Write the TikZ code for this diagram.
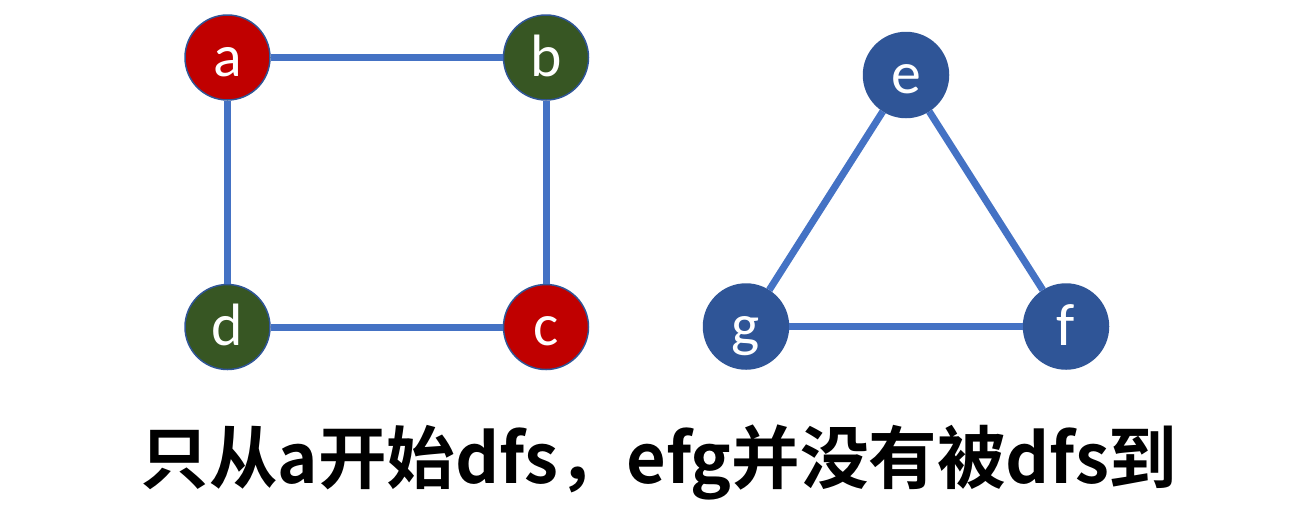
\documentclass[tikz,border=0pt]{standalone}
\usepackage{fontspec}
\setmainfont{Carlito}
\newfontfamily\cjkbold{Noto Sans CJK SC Bold}
\usepackage{tikz}
\usetikzlibrary{positioning}
\definecolor{edgeblue}{HTML}{4472C4}
\definecolor{nodeblue}{HTML}{2F5597}
\definecolor{nodered}{HTML}{C00000}
\definecolor{nodegreen}{HTML}{375623}

\tikzset{
vert/.style={circle, draw=nodeblue, line width=0.85pt, minimum size=1.7cm, inner sep=0pt, text=white, text height=0.74cm, text depth=0cm, font=\fontsize{34}{34}\selectfont},
edge/.style={edgeblue, line width=0.14cm}
}

\begin{document}
\begin{tikzpicture}
\useasboundingbox (0,0) rectangle (25.9,-10.58);

%%%%%%%%%% Square a b c d %%%%%%%%
{
\node[vert, fill=nodered] (a) at (4.55,-1.15) {a};
\node[vert, fill=nodegreen] (b) at (10.92,-1.15) {b};
\node[vert, fill=nodered] (c) at (10.92,-6.54) {c};
\node[vert, fill=nodegreen] (d) at (4.55,-6.54) {d};
}
%%%%%%%%%%%%     Triangle e f g   %%%%%%%%%%%%
{
\node[vert, fill=nodeblue] (e) at (18.12,-1.50) {e};
\node[vert, fill=nodeblue] (f) at (21.32,-6.53) {f};
\node[vert, fill=nodeblue] (g) at (14.92,-6.53) {g};
}

{
\draw[edge] (a)--(b);
\draw[edge] (b)--(c);
\draw[edge] (c)--(d);
\draw[edge] (d)--(a);
\draw[edge] (e)--(f);
\draw[edge] (f)--(g);
\draw[edge] (g)--(e);
}

{
\node (caption) at (13.18,-9.24) {\cjkbold\fontsize{39}{39}\selectfont 只从a开始dfs，efg并没有被dfs到};
}

\end{tikzpicture}
\end{document}
